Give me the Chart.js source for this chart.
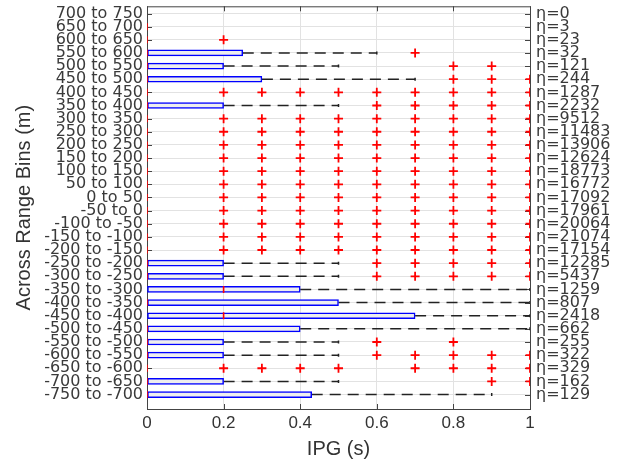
<!DOCTYPE html>
<html>
<head>
<meta charset="utf-8">
<script src="https://cdn.jsdelivr.net/npm/chart.js@4"></script>
<style>
html, body { margin: 0; padding: 0; background: #fff; }
</style>
</head>
<body>
<canvas id="chart" width="621" height="471"></canvas>
<script>
// range bins, top to bottom
const bins = [
    '700 to 750', '650 to 700', '600 to 650', '550 to 600', '500 to 550',
    '450 to 500', '400 to 450', '350 to 400', '300 to 350', '250 to 300',
    '200 to 250', '150 to 200', '100 to 150', '50 to 100', '0 to 50',
    '-50 to 0', '-100 to -50', '-150 to -100', '-200 to -150', '-250 to -200',
    '-300 to -250', '-350 to -300', '-400 to -350', '-450 to -400', '-500 to -450',
    '-550 to -500', '-600 to -550', '-650 to -600', '-700 to -650', '-750 to -700'
];
const counts = [
    0, 3, 23, 32, 121, 244, 1287, 2232, 9512, 11483,
    13906, 12624, 18773, 16772, 17092, 17961, 20064, 21074, 17154, 12285,
    5437, 1259, 807, 2418, 662, 255, 322, 329, 162, 129
];
const q1 = [
    null, 0, 0, 0, 0, 0, 0, 0, 0, 0,
    0, 0, 0, 0, 0, 0, 0, 0, 0, 0,
    0, 0, 0, 0, 0, 0, 0, 0, 0, 0
];
const q3 = [
    null, 0, 0, 0.25, 0.2, 0.3, 0, 0.2, 0, 0,
    0, 0, 0, 0, 0, 0, 0, 0, 0, 0.2,
    0.2, 0.4, 0.5, 0.7, 0.4, 0.2, 0.2, 0, 0.2, 0.43
];
const medians = [
    null, 0, 0, 0, 0, 0, 0, 0, 0, 0,
    0, 0, 0, 0, 0, 0, 0, 0, 0, 0,
    0, 0.2, 0, 0.2, 0, 0, 0, 0, 0, 0
];
const whiskerHi = [
    null, 0, 0, 0.6, 0.5, 0.7, 0, 0.5, 0, 0,
    0, 0, 0, 0, 0, 0, 0, 0, 0, 0.5,
    0.5, 1, 1, 1, 1, 0.5, 0.5, 0, 0.5, 0.9
];
const outliers = [
    [],
    [],
    [0.2],
    [0.7],
    [0.8, 0.9],
    [0.8, 0.9, 1],
    [0.2, 0.3, 0.4, 0.5, 0.6, 0.7, 0.8, 0.9, 1],
    [0.6, 0.7, 0.8, 0.9, 1],
    [0.2, 0.3, 0.4, 0.5, 0.6, 0.7, 0.8, 0.9, 1],
    [0.2, 0.3, 0.4, 0.5, 0.6, 0.7, 0.8, 0.9, 1],
    [0.2, 0.3, 0.4, 0.5, 0.6, 0.7, 0.8, 0.9, 1],
    [0.2, 0.3, 0.4, 0.5, 0.6, 0.7, 0.8, 0.9, 1],
    [0.2, 0.3, 0.4, 0.5, 0.6, 0.7, 0.8, 0.9, 1],
    [0.2, 0.3, 0.4, 0.5, 0.6, 0.7, 0.8, 0.9, 1],
    [0.2, 0.3, 0.4, 0.5, 0.6, 0.7, 0.8, 0.9, 1],
    [0.2, 0.3, 0.4, 0.5, 0.6, 0.7, 0.8, 0.9, 1],
    [0.2, 0.3, 0.4, 0.5, 0.6, 0.7, 0.8, 0.9, 1],
    [0.2, 0.3, 0.4, 0.5, 0.6, 0.7, 0.8, 0.9, 1],
    [0.2, 0.3, 0.4, 0.5, 0.6, 0.7, 0.8, 0.9, 1],
    [0.6, 0.7, 0.8, 0.9, 1],
    [0.6, 0.7, 0.8, 0.9, 1],
    [],
    [],
    [],
    [],
    [0.6, 0.8],
    [0.6, 0.7, 0.8, 0.9, 1],
    [0.2, 0.3, 0.4, 0.5, 0.7, 0.8, 0.9, 1],
    [0.9, 1],
    []
];
const xTicks = [0, 0.2, 0.4, 0.6, 0.8, 1];

Chart.defaults.font.family = '"Liberation Sans", Arial, Helvetica, sans-serif';
Chart.defaults.color = '#333333';

const rowFont = { family: '"DejaVu Sans", sans-serif', size: 16 };

let boxData = [];
let medianData = [];
let capData = [];
let outlierData = [];
let whiskerSets = [];

for (let i = 0; i < bins.length; i++)
{
    if (counts[i] === 0) continue;
    if (q3[i] > q1[i]) boxData.push({ x: [q1[i], q3[i]], y: i });
    medianData.push({ x: medians[i], y: i });
    if (whiskerHi[i] > q3[i])
    {
        whiskerSets.push([{ x: q3[i], y: i }, { x: whiskerHi[i], y: i }]);
        capData.push({ x: whiskerHi[i], y: i });
    }
    for (let v of outliers[i]) outlierData.push({ x: v, y: i });
}

let datasets = [
    {
        type: 'scatter',
        data: outlierData,
        pointStyle: 'cross',
        pointRadius: 4.5,
        borderColor: '#ff0000',
        backgroundColor: '#ff0000',
        borderWidth: 1.8,
    },
    {
        type: 'scatter',
        data: medianData,
        pointStyle: 'line',
        rotation: 90,
        pointRadius: 3.5,
        borderColor: '#ff0000',
        borderWidth: 1.6,
    },
    {
        type: 'scatter',
        data: capData,
        pointStyle: 'line',
        rotation: 90,
        pointRadius: 1.5,
        borderColor: '#222222',
        borderWidth: 1.5,
    },
    {
        type: 'bar',
        indexAxis: 'y',
        data: boxData,
        barThickness: 6,
        borderColor: '#0000ff',
        backgroundColor: '#eeeeee',
        borderWidth: 1.5,
        borderSkipped: false,
    },
];

for (let w of whiskerSets)
{
    datasets.push({
        type: 'line',
        data: w,
        borderColor: '#222222',
        borderWidth: 1.5,
        borderDash: [11, 7],
        pointRadius: 0,
        fill: false,
    });
}

for (let d of datasets)
{
    d.xAxisID = 'x';
    d.yAxisID = 'y';
}

// MATLAB-style frame with inward tick marks
const framePlugin = {
    id: 'frame',
    beforeDatasetsDraw(chart)
    {
        let ctx = chart.ctx;
        let a = chart.chartArea;
        let xs = chart.scales.x;
        let ys = chart.scales.y;
        ctx.save();
        ctx.strokeStyle = '#444444';
        ctx.lineWidth = 1;
        ctx.beginPath();
        for (let t of ys.ticks)
        {
            let py = Math.round(ys.getPixelForValue(t.value)) + 0.5;
            ctx.moveTo(a.left, py); ctx.lineTo(a.left + 5, py);
            ctx.moveTo(a.right, py); ctx.lineTo(a.right - 5, py);
        }
        for (let t of xs.ticks)
        {
            let px = Math.round(xs.getPixelForValue(t.value)) + 0.5;
            ctx.moveTo(px, a.bottom); ctx.lineTo(px, a.bottom - 5);
            ctx.moveTo(px, a.top); ctx.lineTo(px, a.top + 5);
        }
        ctx.stroke();
        ctx.strokeRect(a.left + 0.5, a.top + 0.5, a.right - a.left, a.bottom - a.top);
        ctx.restore();
    }
};

let rowTicks = scale => { scale.ticks = bins.map((b, i) => ({ value: i })); };
let noPad = s => { s.paddingTop = 0; s.paddingBottom = 0; s.paddingLeft = 0; s.paddingRight = 0; };

new Chart('chart', {
    type: 'scatter',
    data: { datasets: datasets },
    plugins: [framePlugin],
    options: {
        responsive: false,
        animation: false,
        events: [],
        layout: { padding: { top: 6, left: 0, right: 0, bottom: 0 } },
        plugins: {
            legend: { display: false },
            tooltip: { enabled: false },
        },
        scales: {
            x: {
                type: 'linear',
                position: 'bottom',
                min: 0,
                max: 1,
                offset: false,
                afterFit: s => { s.height = 62; noPad(s); },
                afterBuildTicks: s => { s.ticks = xTicks.map(v => ({ value: v })); },
                grid: { color: '#e2e2e2', drawTicks: false, offset: false },
                border: { display: false },
                ticks: { font: { size: 17 }, padding: 4, color: '#333333', callback: v => String(v) },
                title: { display: true, text: 'IPG (s)', font: { size: 20 }, padding: { top: 0, bottom: 10 }, color: '#333333' },
            },
            y: {
                type: 'linear',
                position: 'left',
                reverse: true,
                min: -0.55,
                max: 30.1,
                offset: false,
                afterFit: s => { s.width = 147; noPad(s); },
                afterBuildTicks: rowTicks,
                grid: { color: '#e2e2e2', drawTicks: false, offset: false },
                border: { display: false },
                ticks: {
                    autoSkip: false,
                    font: rowFont,
                    padding: 4,
                    color: '#3a3a3a',
                    callback: v => bins[v],
                },
                title: { display: true, text: 'Across Range Bins (m)', font: { size: 20 }, padding: { top: 12, bottom: 0 }, color: '#333333' },
            },
            y2: {
                type: 'linear',
                position: 'right',
                display: true,
                reverse: true,
                min: -0.55,
                max: 30.1,
                offset: false,
                afterFit: s => { s.width = 91; noPad(s); },
                afterBuildTicks: rowTicks,
                grid: { display: false, drawTicks: false },
                border: { display: false },
                ticks: {
                    autoSkip: false,
                    font: rowFont,
                    padding: 6,
                    color: '#3a3a3a',
                    callback: v => 'η=' + counts[v],
                },
            },
        },
    },
});
</script>
</body>
</html>
